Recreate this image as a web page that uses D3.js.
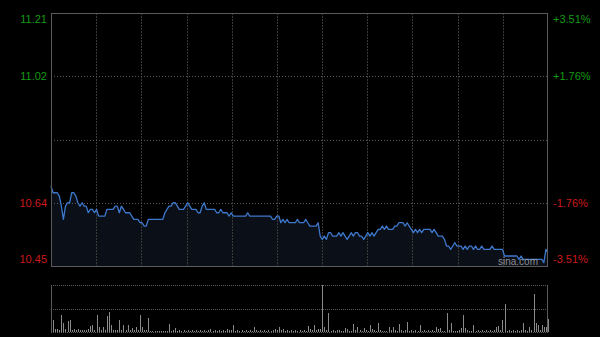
<!DOCTYPE html>
<html><head><meta charset="utf-8">
<script src="https://cdn.jsdelivr.net/npm/d3@7/dist/d3.min.js"></script>
<style>
html,body{margin:0;padding:0;background:#000;}
svg{display:block;}
text{font-family:"Liberation Sans",Arial,sans-serif;}
</style></head>
<body>
<svg id="c" width="600" height="337"></svg>
<script>
// ---- data ----
const prevClose = 10.83;
const priceTicks = [11.21, 11.02, 10.64, 10.45];
const pctTicks = ["+3.51%", "+1.76%", "-1.76%", "-3.51%"];
const price = [
10.69,10.67,10.67,10.67,10.66,10.63,10.59,10.63,10.64,10.64,
10.67,10.67,10.66,10.64,10.63,10.64,10.63,10.63,10.61,10.62,
10.62,10.61,10.62,10.60,10.60,10.60,10.60,10.62,10.62,10.62,
10.62,10.63,10.63,10.61,10.63,10.62,10.61,10.61,10.61,10.60,
10.59,10.59,10.59,10.58,10.58,10.57,10.57,10.59,10.59,10.59,
10.59,10.59,10.59,10.59,10.59,10.61,10.62,10.63,10.63,10.64,
10.64,10.63,10.62,10.62,10.62,10.63,10.64,10.63,10.62,10.62,
10.62,10.61,10.61,10.63,10.64,10.62,10.62,10.62,10.62,10.62,
10.61,10.61,10.62,10.61,10.61,10.61,10.60,10.61,10.60,10.60,
10.60,10.60,10.60,10.60,10.60,10.61,10.60,10.60,10.60,10.60,
10.60,10.60,10.60,10.60,10.60,10.60,10.60,10.59,10.59,10.60,
10.60,10.58,10.59,10.58,10.59,10.58,10.58,10.58,10.58,10.59,
10.58,10.58,10.58,10.59,10.58,10.57,10.57,10.57,10.57,10.58,
10.54,10.53,10.54,10.53,10.55,10.55,10.54,10.54,10.54,10.55,
10.54,10.55,10.54,10.53,10.54,10.55,10.54,10.55,10.55,10.54,
10.54,10.53,10.54,10.55,10.54,10.55,10.54,10.55,10.56,10.56,
10.57,10.56,10.57,10.56,10.56,10.56,10.57,10.57,10.58,10.58,
10.58,10.57,10.58,10.57,10.56,10.55,10.56,10.55,10.56,10.55,
10.56,10.56,10.56,10.56,10.55,10.56,10.55,10.54,10.54,10.54,
10.53,10.51,10.51,10.50,10.51,10.52,10.51,10.51,10.51,10.50,
10.51,10.50,10.51,10.51,10.50,10.51,10.50,10.50,10.51,10.50,
10.50,10.50,10.50,10.51,10.50,10.50,10.50,10.50,10.50,10.48,
10.48,10.48,10.48,10.48,10.48,10.48,10.47,10.48,10.47,10.47,
10.47,10.47,10.47,10.47,10.47,10.47,10.47,10.47,10.46,10.50,
10.49];
const volume = [
9,12,3,3,2,17,9,3,11,12,
2,3,2,3,2,2,2,2,3,6,
7,2,17,5,2,5,2,16,20,7,
2,2,2,12,2,7,2,7,2,4,
2,5,2,17,5,2,2,14,1,1,
1,1,1,1,1,1,1,8,1,2,
4,1,2,1,2,1,2,1,2,1,
2,1,2,1,2,1,2,3,1,2,
1,2,1,2,1,3,2,2,7,1,
2,1,2,1,2,1,2,1,5,2,
1,2,1,2,1,2,1,2,3,2,
5,2,3,1,2,1,2,1,2,1,
2,1,2,1,6,3,2,7,2,3,
3,47,5,2,19,1,2,1,2,2,
1,1,4,3,1,1,8,2,5,2,
1,4,2,1,7,3,2,1,9,2,
1,1,1,5,2,5,2,1,8,2,
1,2,10,1,2,1,2,1,7,1,
2,1,2,1,2,1,5,3,4,1,
1,19,2,9,1,1,1,2,4,17,
4,2,1,1,7,1,2,1,2,1,
2,1,2,1,2,5,6,2,12,28,
1,2,1,2,1,2,1,2,9,2,
1,5,2,38,9,7,2,7,5,5,
13];

// ---- layout ----
const svg = d3.select("#c");
const L = 51, R = 548, T = 13, B = 266;
const VT = 285, VB = 332;

const x = d3.scaleLinear().domain([0, 240]).range([L, R]);
const y = d3.scaleLinear().domain([10.45, 11.21]).range([B, T]);
const yv = d3.scaleLinear().domain([0, d3.max(volume)]).range([VB, VT]);
const gx = d3.scaleLinear().domain([0, 11]).range([L, R]);

svg.append("rect").attr("width", 600).attr("height", 337).attr("fill", "#000");

// area under price
const area = d3.area().x((d, i) => x(i)).y0(B).y1(d => y(d));
svg.append("path").datum(price).attr("d", area).attr("fill", "#0b0f18");

// vertical grid
svg.append("g").selectAll("line").data(d3.range(1, 11)).join("line")
  .attr("x1", d => Math.round(gx(d)) + 0.5).attr("x2", d => Math.round(gx(d)) + 0.5)
  .attr("y1", T).attr("y2", B)
  .attr("stroke", "#3a3a3a").attr("stroke-dasharray", "2,1");

// horizontal grid
svg.append("g").selectAll("line").data([11.02, prevClose, 10.64]).join("line")
  .attr("x1", L).attr("x2", R)
  .attr("y1", d => Math.round(y(d)) + 0.5).attr("y2", d => Math.round(y(d)) + 0.5)
  .attr("stroke", "#5a5a5a").attr("stroke-dasharray", "1,2");

// price line
const line = d3.line().x((d, i) => x(i)).y(d => y(d));
svg.append("path").datum(price).attr("d", line)
  .attr("fill", "none").attr("stroke", "#3d78cc").attr("stroke-width", 1.3)
  .attr("stroke-linejoin", "round");

// frame
svg.append("rect").attr("x", L + 0.5).attr("y", T + 0.5)
  .attr("width", R - L - 1).attr("height", B - T)
  .attr("fill", "none").attr("stroke", "#5a5a5a");

// left axis
const colorFor = v => v > prevClose ? "#139a13" : "#cc1a1a";
const ga = svg.append("g").attr("transform", `translate(${L - 4},0)`)
  .call(d3.axisLeft(y).tickValues(priceTicks).tickSize(0).tickPadding(0).tickFormat(d3.format(".2f")));
ga.select(".domain").remove();
ga.selectAll("text")
  .attr("fill", d => colorFor(d))
  .attr("font-size", 11)
  .attr("font-family", '"Liberation Sans",Arial,sans-serif')
  .attr("dy", d => d === 11.21 ? "0.32em" : (d === 10.45 ? "-0.28em" : "0.32em"))
  .attr("transform", d => d === 11.21 ? "translate(0,6)" : (d === 10.45 ? "translate(0,0)" : null));

// right axis
const ra = svg.append("g").attr("transform", `translate(${R + 5},0)`)
  .call(d3.axisRight(y).tickValues(priceTicks).tickSize(0).tickPadding(0)
    .tickFormat((d, i) => pctTicks[i]));
ra.select(".domain").remove();
ra.selectAll("text")
  .attr("fill", d => colorFor(d))
  .attr("font-size", 11)
  .attr("font-family", '"Liberation Sans",Arial,sans-serif')
  .attr("dy", d => d === 10.45 ? "-0.28em" : "0.32em")
  .attr("transform", d => d === 11.21 ? "translate(0,6)" : null);

// watermark
svg.append("text").attr("x", 498).attr("y", 265).text("sina.com")
  .attr("font-size", 10).attr("fill", "#b0b0b0").attr("fill-opacity", 0.8);

// volume panel
svg.append("g").selectAll("line").data([VT, (VT + VB) / 2, VB]).join("line")
  .attr("x1", L).attr("x2", R)
  .attr("y1", d => Math.round(d) + 0.5).attr("y2", d => Math.round(d) + 0.5)
  .attr("stroke", "#5a5a5a").attr("stroke-dasharray", "1,1");
svg.append("g").selectAll("line").data(volume).join("line")
  .attr("x1", (d, i) => Math.round(x(i)) + 0.5).attr("x2", (d, i) => Math.round(x(i)) + 0.5)
  .attr("y1", VB).attr("y2", d => yv(d))
  .attr("stroke", "#8a8a8a").attr("stroke-width", 1);
svg.append("line").attr("x1", L + 0.5).attr("x2", L + 0.5).attr("y1", VT).attr("y2", VB)
  .attr("stroke", "#5a5a5a");
svg.append("line").attr("x1", R - 0.5).attr("x2", R - 0.5).attr("y1", VT).attr("y2", VB)
  .attr("stroke", "#5a5a5a");
</script>
</body></html>
